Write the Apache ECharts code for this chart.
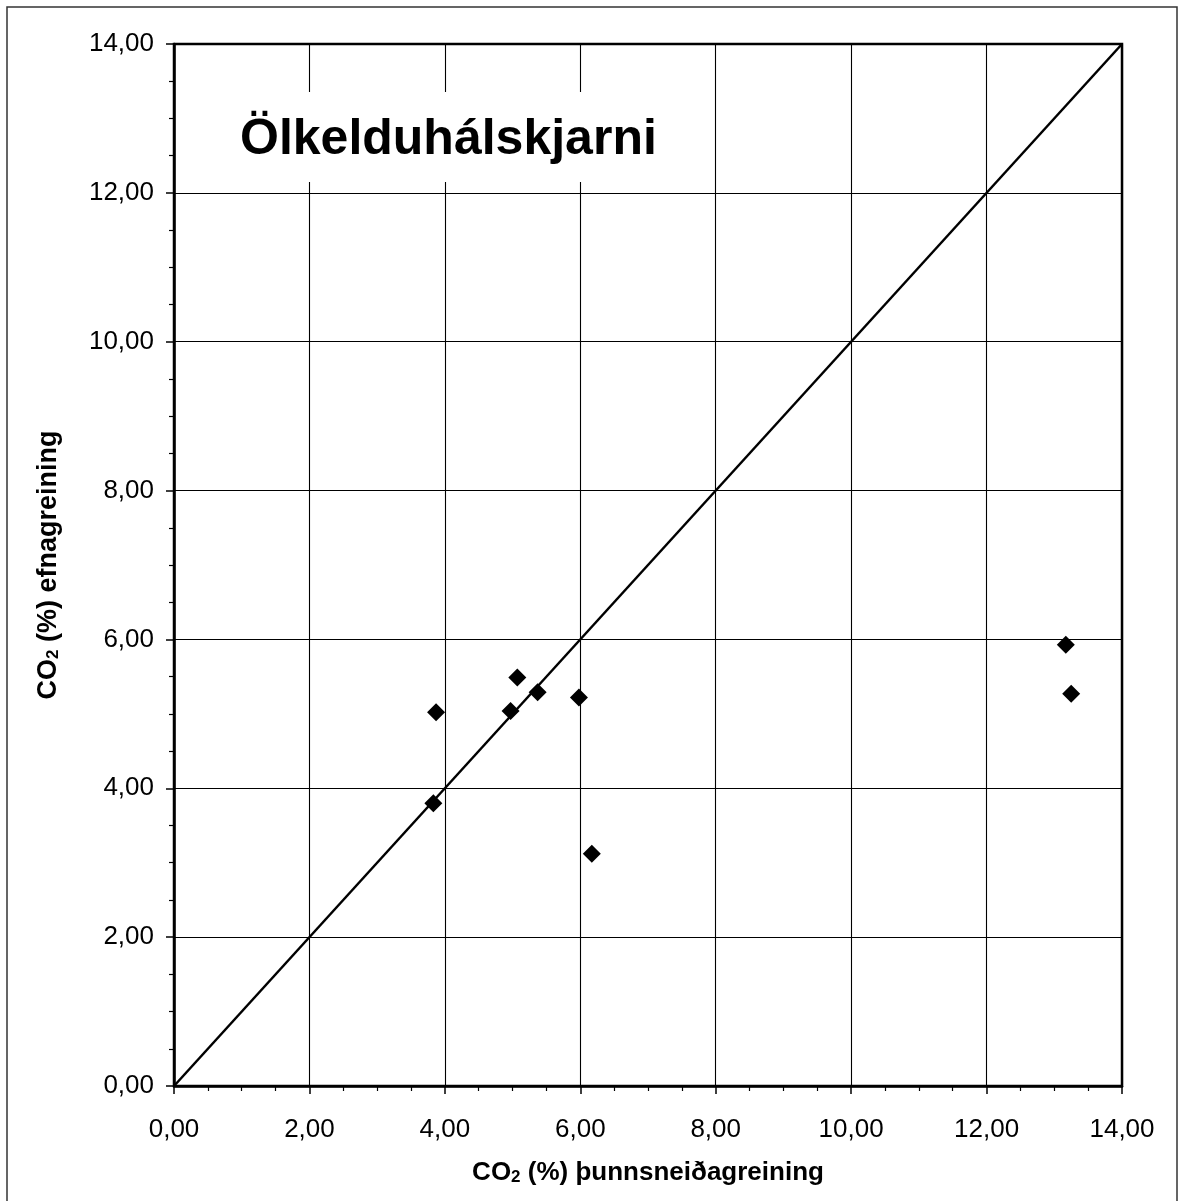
<!DOCTYPE html>
<html>
<head>
<meta charset="utf-8">
<script src="https://cdn.jsdelivr.net/npm/echarts@6/dist/echarts.min.js"></script>
<style>
html,body{margin:0;padding:0;background:#fff;}
#chart{width:1182px;height:1201px;}
</style>
</head>
<body>
<div id="chart"></div>
<script>
// Data
const xValues = [3.87, 3.83, 4.97, 5.07, 5.37, 5.98, 6.17, 13.17, 13.25];
const yValues = [5.02, 3.80, 5.04, 5.49, 5.29, 5.22, 3.12, 5.93, 5.27];
const refLineX = [0, 14];
const refLineY = [0, 14];
const titleText = 'Ölkelduhálskjarni';
const xAxisLabel = ['CO', '2', ' (%) þunnsneiðagreining'];
const yAxisLabel = ['CO', '2', ' (%) efnagreining'];

const FONT = '"Liberation Sans", Arial, sans-serif';
const chart = echarts.init(document.getElementById('chart'));

const fmt = v => v.toFixed(2).replace('.', ',');
const mkRich = fs => ({
  a: {fontFamily: FONT, fontWeight: 'bold', fontSize: fs, color: '#000', lineHeight: 30, verticalAlign: 'bottom'},
  s: {fontFamily: FONT, fontWeight: 'bold', fontSize: 17, color: '#000', lineHeight: 10, verticalAlign: 'bottom'}
});
const mkName = arr => '{a|' + arr[0] + '}{s|' + arr[1] + '}{a|' + arr[2] + '}';

const axisCommon = {
  type: 'value', min: 0, max: 14, interval: 2,
  axisLine: {show: true, onZero: false, lineStyle: {color: '#000', width: 2.5}},
  axisTick: {show: true, inside: false, length: 8, lineStyle: {color: '#000', width: 1.5}},
  minorTick: {show: true, splitNumber: 4, length: 5, lineStyle: {color: '#000', width: 1.2}},
  splitLine: {show: true, lineStyle: {color: '#000', width: 1.1}},
  minorSplitLine: {show: false},
  axisLabel: {color: '#000', fontFamily: FONT, fontSize: 26, formatter: fmt},
  nameLocation: 'middle'
};

chart.setOption({
  animation: false,
  backgroundColor: '#fff',
  grid: {left: 174, top: 44, width: 948, height: 1042, show: true, borderColor: '#000', borderWidth: 2.5, containLabel: false},
  xAxis: Object.assign({}, axisCommon, {
    name: mkName(xAxisLabel), nameGap: 70,
    nameTextStyle: {rich: mkRich(26)},
    axisLabel: Object.assign({}, axisCommon.axisLabel, {margin: 31})
  }),
  yAxis: Object.assign({}, axisCommon, {
    name: mkName(yAxisLabel), nameGap: 112, nameRotate: 90,
    nameTextStyle: {rich: mkRich(27)},
    axisLabel: Object.assign({}, axisCommon.axisLabel, {margin: 20})
  }),
  graphic: [
    {type: 'rect', z: 100, shape: {x: 7, y: 7, width: 1170, height: 1200}, style: {fill: 'none', stroke: '#333', lineWidth: 1.5}},
    {type: 'rect', z: 100, shape: {x: 205, y: 92, width: 480, height: 90}, style: {fill: '#fff'}},
    {type: 'text', z: 101, x: 240, y: 140, style: {text: titleText, font: 'bold 50px ' + FONT, fill: '#000', textAlign: 'left', textVerticalAlign: 'middle'}}
  ],
  series: [
    {
      type: 'line', data: refLineX.map((x, i) => [x, refLineY[i]]),
      showSymbol: false, symbol: 'none', lineStyle: {color: '#000', width: 2.5}, z: 3
    },
    {
      type: 'scatter', data: xValues.map((x, i) => [x, yValues[i]]),
      symbol: 'diamond', symbolSize: 18, itemStyle: {color: '#000', opacity: 1}, z: 4
    }
  ]
});
</script>
</body>
</html>
